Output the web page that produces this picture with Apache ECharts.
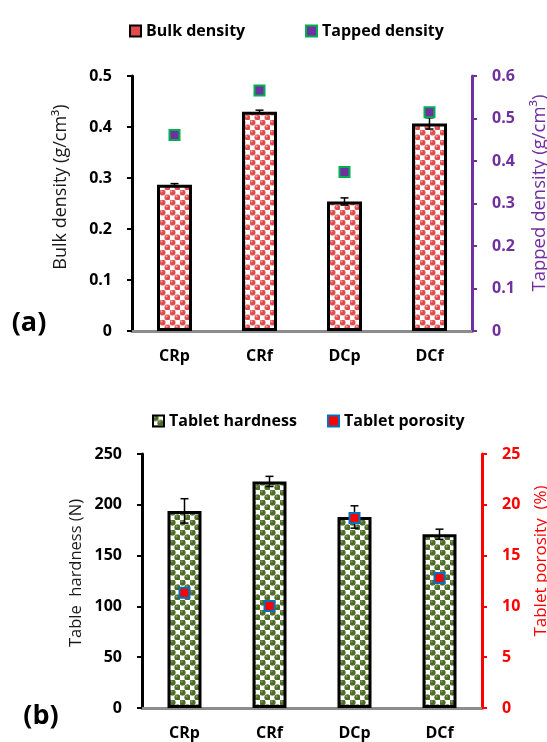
<!DOCTYPE html>
<html><head><meta charset="utf-8">
<script src="https://cdn.jsdelivr.net/npm/echarts@6/dist/echarts.min.js"></script>
<style>html,body{margin:0;padding:0;background:#fff}#c{width:547px;height:742px}</style>
</head><body><div id="c"></div>
<script>
const categories = ['CRp', 'CRf', 'DCp', 'DCf'];
const bulkDensity = [0.287, 0.430, 0.254, 0.407];
const bulkDensityErr = [0.002, 0.003, 0.007, 0.011];
const tappedDensity = [0.461, 0.566, 0.374, 0.515];
const hardness = [194, 223, 188, 171];
const hardnessErr = [12, 5, 11, 5];
const porosity = [11.35, 10.05, 18.7, 12.8];

const F = '"Open Sans", sans-serif';
const PURPLE = '#7030a0';

function makePattern(circ, hi, edge) {
  const c = document.createElement('canvas');
  c.width = 10; c.height = 10;
  const g = c.getContext('2d');
  g.fillStyle = '#ffffff'; g.fillRect(0, 0, 10, 10);
  const pts = [[2.5, 2.5], [7.5, 7.5]];
  pts.forEach(p => {
    g.fillStyle = edge; g.beginPath(); g.arc(p[0], p[1], 3.2, 0, Math.PI * 2); g.fill();
    g.fillStyle = circ; g.beginPath(); g.arc(p[0], p[1], 2.6, 0, Math.PI * 2); g.fill();
    g.fillStyle = hi; g.beginPath(); g.arc(p[0] - 0.9, p[1] - 0.9, 1.0, 0, Math.PI * 2); g.fill();
  });
  return { image: c, repeat: 'repeat' };
}
const redPat = makePattern('#e04a4a', '#f6a3a3', '#ee8a8a');
const greenPat = makePattern('#4c6a28', '#86a05c', '#6b8445');

function errRender(params, api) {
  const lo = api.coord([api.value(0), api.value(1)]);
  const hi = api.coord([api.value(0), api.value(2)]);
  const w = 4;
  const st = { stroke: '#000', lineWidth: 1.5 };
  return { type: 'group', children: [
    { type: 'line', shape: { x1: lo[0], y1: lo[1], x2: hi[0], y2: hi[1] }, style: st },
    { type: 'line', shape: { x1: hi[0] - w, y1: hi[1], x2: hi[0] + w, y2: hi[1] }, style: st },
    { type: 'line', shape: { x1: lo[0] - w, y1: lo[1], x2: lo[0] + w, y2: lo[1] }, style: st }
  ]};
}

function xAx(gi) {
  return { gridIndex: gi, type: 'category', data: categories,
    axisLine: { lineStyle: { color: '#8c8c8c', width: 3 } },
    axisTick: { length: 5, lineStyle: { color: '#8c8c8c', width: 2 } },
    axisLabel: { color: '#000', fontWeight: 'bold', fontSize: 16, fontFamily: F, margin: 17 } };
}
function yAx(gi, max, interval, pos, color, dec) {
  return { gridIndex: gi, type: 'value', min: 0, max: max, interval: interval, position: pos,
    axisLine: { show: true, lineStyle: { color: color, width: 3 } },
    axisTick: { show: true, length: 5, lineStyle: { color: color, width: 2 } },
    splitLine: { show: false },
    axisLabel: { color: color, fontWeight: 'bold', fontSize: 16, fontFamily: F, margin: 20,
      formatter: v => v === 0 ? '0' : v.toFixed(dec) } };
}

const legendBase = { itemWidth: 11, itemHeight: 11, textStyle: { fontFamily: F, fontWeight: 'bold', fontSize: 16, color: '#000' }, itemGap: 5, selectedMode: false };

const option = {
  animation: false,
  backgroundColor: '#fff',
  grid: [
    { left: 132, top: 76, width: 340, height: 255 },
    { left: 142, top: 454, width: 340, height: 254 }
  ],
  xAxis: [xAx(0), xAx(1)],
  yAxis: [
    yAx(0, 0.5, 0.1, 'left', '#000', 1),
    yAx(0, 0.6, 0.1, 'right', PURPLE, 1),
    yAx(1, 250, 50, 'left', '#000', 0),
    yAx(1, 25, 5, 'right', '#ff0000', 0)
  ],
  legend: [
    Object.assign({}, legendBase, { left: 124, top: 18, data: [{ name: 'Bulk density', icon: 'rect', itemStyle: { color: '#e04a4a', borderColor: '#000', borderWidth: 2 } }] }),
    Object.assign({}, legendBase, { left: 300, top: 18, data: [{ name: 'Tapped density', icon: 'rect', itemStyle: { color: PURPLE, borderColor: '#00b050', borderWidth: 2 } }] }),
    Object.assign({}, legendBase, { left: 147, top: 408, data: [{ name: 'Tablet hardness', icon: 'rect', itemStyle: { color: greenPat, borderColor: '#000', borderWidth: 2 } }] }),
    Object.assign({}, legendBase, { left: 322, top: 408, data: [{ name: 'Tablet porosity', icon: 'rect', itemStyle: { color: '#ff0000', borderColor: '#0070c0', borderWidth: 2 } }] })
  ],
  series: [
    { name: 'Bulk density', type: 'bar', xAxisIndex: 0, yAxisIndex: 0, data: bulkDensity, barWidth: 35,
      itemStyle: { color: redPat, borderColor: '#000', borderWidth: 3 } },
    { type: 'custom', xAxisIndex: 0, yAxisIndex: 0, renderItem: errRender, z: 5,
      encode: { x: 0, y: [1, 2] },
      data: categories.map((c, i) => [i, bulkDensity[i] - bulkDensityErr[i], bulkDensity[i] + bulkDensityErr[i]]) },
    { name: 'Tapped density', type: 'scatter', xAxisIndex: 0, yAxisIndex: 1, data: tappedDensity, symbol: 'rect', symbolSize: 10, z: 6,
      itemStyle: { color: PURPLE, borderColor: '#00b050', borderWidth: 2, opacity: 1 } },
    { name: 'Tablet hardness', type: 'bar', xAxisIndex: 1, yAxisIndex: 2, data: hardness, barWidth: 34,
      itemStyle: { color: greenPat, borderColor: '#000', borderWidth: 3 } },
    { type: 'custom', xAxisIndex: 1, yAxisIndex: 2, renderItem: errRender, z: 5,
      encode: { x: 0, y: [1, 2] },
      data: categories.map((c, i) => [i, hardness[i] - hardnessErr[i], hardness[i] + hardnessErr[i]]) },
    { name: 'Tablet porosity', type: 'scatter', xAxisIndex: 1, yAxisIndex: 3, data: porosity, symbol: 'rect', symbolSize: 10, z: 6,
      itemStyle: { color: '#ff0000', borderColor: '#0070c0', borderWidth: 2, opacity: 1 } }
  ],
  graphic: [
    { type: 'text', x: 61, y: 187, rotation: Math.PI / 2, style: { text: 'Bulk density (g/cm³)', font: '18px ' + F, fill: '#1a1a1a', textAlign: 'center', textVerticalAlign: 'middle' } },
    { type: 'text', x: 540, y: 193, rotation: Math.PI / 2, style: { text: 'Tapped density (g/cm³)', font: '18.5px ' + F, fill: PURPLE, textAlign: 'center', textVerticalAlign: 'middle' } },
    { type: 'text', x: 76, y: 573, rotation: Math.PI / 2, style: { text: 'Table  hardness (N)', font: '16.5px ' + F, fill: '#1a1a1a', textAlign: 'center', textVerticalAlign: 'middle' } },
    { type: 'text', x: 541, y: 561, rotation: Math.PI / 2, style: { text: 'Tablet porosity  (%)', font: '17px ' + F, fill: '#ff0000', textAlign: 'center', textVerticalAlign: 'middle' } },
    { type: 'text', x: 29, y: 323, style: { text: '(a)', font: 'bold 27px ' + F, fill: '#000', textAlign: 'center', textVerticalAlign: 'middle' } },
    { type: 'text', x: 41, y: 716, style: { text: '(b)', font: 'bold 27px ' + F, fill: '#000', textAlign: 'center', textVerticalAlign: 'middle' } }
  ]
};
echarts.init(document.getElementById('c')).setOption(option);
</script>
</body></html>
